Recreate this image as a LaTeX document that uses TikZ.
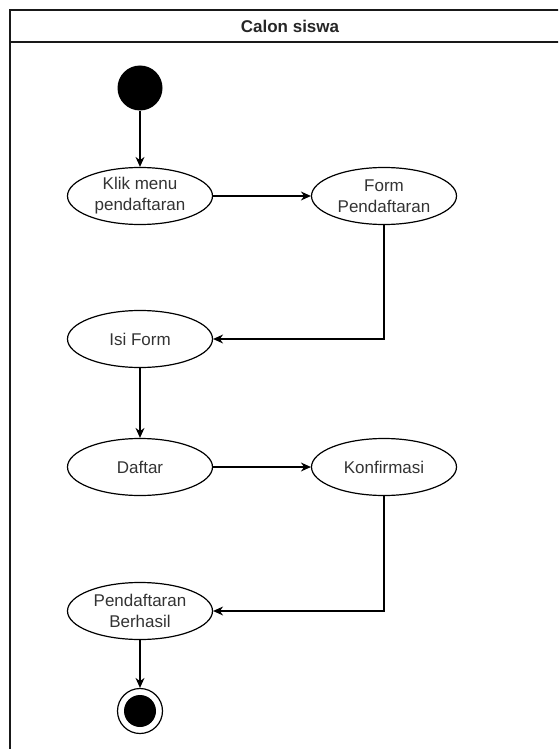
\documentclass[tikz,border=0pt]{standalone}
\usepackage{fontspec}
\setmainfont{Liberation Sans}
\usetikzlibrary{arrows.meta,positioning,shapes.geometric}
\tikzset{
    lane style/.style={line width=1.5pt,black!90},
    activity/.style={ellipse,draw,line width=1.2pt,minimum width=145pt,minimum height=57pt,inner sep=0pt,align=center,text=black!80},
    start state/.style={circle,fill=black,minimum size=45pt,inner sep=0pt},
    end state/.style={circle,draw,line width=1.2pt,minimum size=45pt,inner sep=0pt,
        path picture={\fill (path picture bounding box.center) circle (16pt);}},
    arr/.style={-{Stealth[length=10pt,width=9pt]},line width=1.2pt},
}
\tikzstyle{every node}=[font=\fontsize{17}{21}\selectfont]

\begin{document}
\begin{tikzpicture}[x=1pt,y=-1pt]
        \clip (0,0) rectangle (558,749);
        % swimlane
        \draw[lane style] (10,749) -- (10,10) -- (580,10);
        \draw[lane style] (10,42) -- (580,42);
        \node[font=\bfseries\fontsize{17}{21}\selectfont,text=black!85] (lane) at (290,26) {Calon siswa};

        \node[start state] (start) at (140,88) {};
        \node[activity] (klik) at (140,196) {Klik menu\\pendaftaran};
        \node[activity] (form) at (384,196) {Form\\Pendaftaran};
        \node[activity] (isi) at (140,339) {Isi Form};
        \node[activity] (daftar) at (140,467) {Daftar};
        \node[activity] (konfirmasi) at (384,467) {Konfirmasi};
        \node[activity] (berhasil) at (140,611) {Pendaftaran\\Berhasil};
        \node[end state] (end) at (140,711) {};

        \draw[arr] (start) -- (klik);
        \draw[arr] (klik) -- (form);
        \draw[arr] (form) |- (isi);
        \draw[arr] (isi) -- (daftar);
        \draw[arr] (daftar) -- (konfirmasi);
        \draw[arr] (konfirmasi) |- (berhasil);
        \draw[arr] (berhasil) -- (end);
    \end{tikzpicture}
\end{document}
